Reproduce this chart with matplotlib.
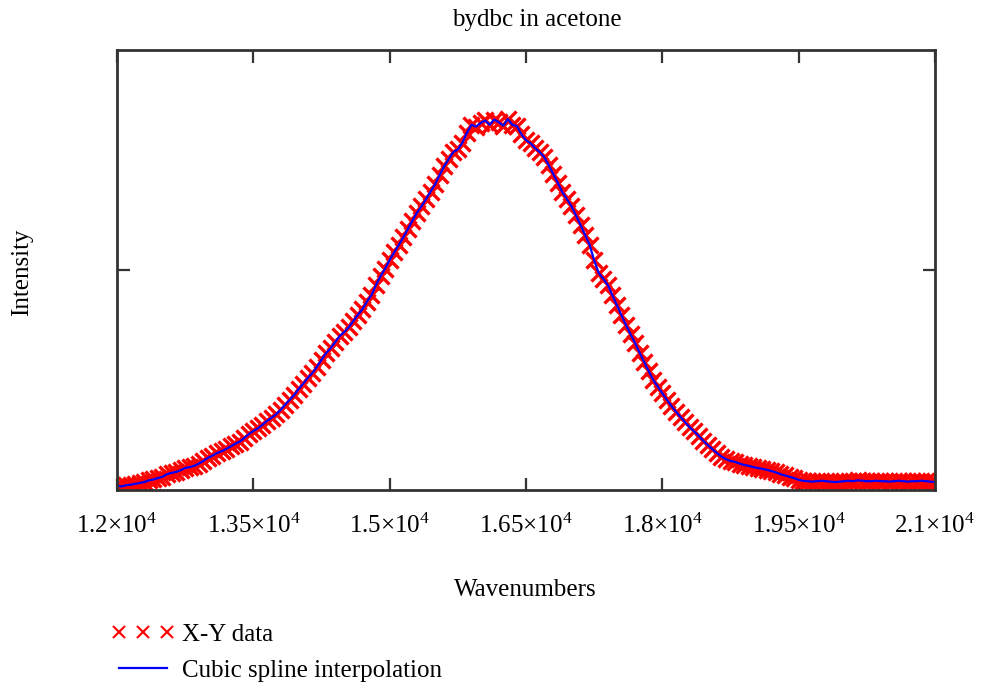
import numpy as np
import matplotlib
matplotlib.use("Agg")
import matplotlib.pyplot as plt

plt.rcParams['font.family'] = ['Liberation Serif', 'DejaVu Serif']
plt.rcParams['mathtext.fontset'] = 'custom'
plt.rcParams['mathtext.rm'] = 'Liberation Serif'
plt.rcParams['mathtext.default'] = 'regular'

title = "bydbc in acetone"
xlabel = "Wavenumbers"
ylabel = "Intensity"
legend_labels = ["X-Y data", "Cubic spline interpolation"]

wn_start, wn_stop, wn_step = 12000, 21000, 50
wavenumbers = np.arange(wn_start, wn_stop + 1, wn_step)

intensity = [
    0.010, 0.008, 0.011, 0.012, 0.014, 0.016, 0.018, 0.022, 0.024, 0.027,
    0.030, 0.036, 0.039, 0.041, 0.045, 0.050, 0.052, 0.055, 0.060, 0.066,
    0.073, 0.078, 0.084, 0.088, 0.093, 0.099, 0.105, 0.110, 0.118, 0.127,
    0.134, 0.140, 0.148, 0.157, 0.164, 0.172, 0.182, 0.194, 0.205, 0.216,
    0.230, 0.242, 0.255, 0.266, 0.280, 0.296, 0.311, 0.322, 0.336, 0.350,
    0.359, 0.370, 0.384, 0.398, 0.411, 0.428, 0.443, 0.466, 0.486, 0.503,
    0.523, 0.540, 0.557, 0.574, 0.593, 0.612, 0.630, 0.645, 0.661, 0.678,
    0.695, 0.716, 0.736, 0.752, 0.768, 0.774, 0.789, 0.812, 0.830, 0.826,
    0.834, 0.840, 0.830, 0.842, 0.836, 0.828, 0.843, 0.830, 0.827, 0.808,
    0.795, 0.788, 0.777, 0.768, 0.757, 0.738, 0.718, 0.698, 0.677, 0.661,
    0.645, 0.624, 0.602, 0.580, 0.557, 0.522, 0.493, 0.480, 0.466, 0.443,
    0.420, 0.397, 0.375, 0.354, 0.334, 0.312, 0.291, 0.270, 0.250, 0.235,
    0.220, 0.205, 0.191, 0.178, 0.166, 0.154, 0.143, 0.133, 0.123, 0.112,
    0.102, 0.093, 0.084, 0.076, 0.070, 0.066, 0.064, 0.060, 0.057, 0.055,
    0.052, 0.050, 0.048, 0.046, 0.043, 0.040, 0.036, 0.033, 0.030, 0.027,
    0.023, 0.021, 0.020,
    0.019, 0.020, 0.021, 0.020, 0.019, 0.018, 0.019, 0.020, 0.021, 0.020,
    0.022, 0.021, 0.020, 0.020, 0.021, 0.020, 0.020, 0.019, 0.020, 0.021,
    0.020, 0.019, 0.020, 0.020, 0.021, 0.020, 0.019, 0.018,
]

xticks = [12000, 13500, 15000, 16500, 18000, 19500, 21000]
xtick_labels = ["1.2\u00d710$^{4}$", "1.35\u00d710$^{4}$", "1.5\u00d710$^{4}$",
                "1.65\u00d710$^{4}$", "1.8\u00d710$^{4}$", "1.95\u00d710$^{4}$",
                "2.1\u00d710$^{4}$"]
yticks = [0.5]

FS = 18
W, H = 981, 686
fig = plt.figure(figsize=(W / 100, H / 100), dpi=100)
ax = fig.add_axes([117 / W, 1 - 490 / H, (935 - 117) / W, (490 - 50) / H])

ax.plot(wavenumbers, intensity, linestyle='none', marker='x', color='#ff0000',
        markersize=12, markeredgewidth=2.4, label=legend_labels[0])
ax.plot(wavenumbers, intensity, color='#0000ff', linewidth=1.6,
        label=legend_labels[1])

ax.set_xlim(12000, 21000)
ax.set_ylim(0, 1)
ax.set_xticks(xticks)
ax.set_xticklabels(xtick_labels, fontsize=FS)
ax.set_yticks(yticks)
ax.set_yticklabels([])
ax.tick_params(axis='both', direction='in', length=9, width=1.6, color='#333333',
               top=True, right=True, pad=17)
for s in ax.spines.values():
    s.set_linewidth(2)
    s.set_color('#333333')

fig.text(537 / W, 1 - 20 / H, title, ha='center', va='center', fontsize=FS)
fig.text(525 / W, 1 - 590 / H, xlabel, ha='center', va='center', fontsize=FS)
fig.text(22 / W, 1 - 272 / H, ylabel, ha='center', va='center', fontsize=FS,
         rotation=90)

leg = fig.legend(loc='upper left', bbox_to_anchor=(99 / W, 1 - 611 / H),
                 frameon=False, fontsize=FS, numpoints=3, handlelength=2.5,
                 handletextpad=0.3, labelspacing=0.52, borderpad=0)
for h in leg.legend_handles:
    h.set_markersize(9)
    h.set_markeredgewidth(1.5)

fig.savefig("out.png", dpi=100)
